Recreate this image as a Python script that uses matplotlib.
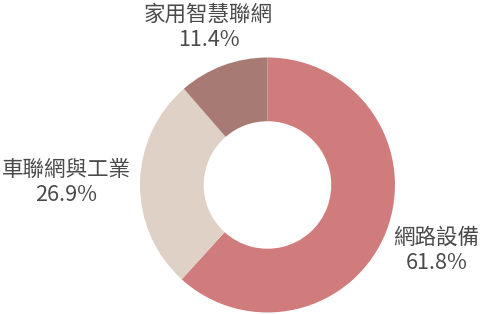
import numpy as np
import matplotlib
matplotlib.use('Agg')
import matplotlib.pyplot as plt

plt.rcParams['font.family'] = ['Noto Sans CJK TC', 'DejaVu Sans']

# 資料
labels = ['網路設備', '車聯網與工業', '家用智慧聯網']
values = [61.8, 26.9, 11.4]
colors = ['#d17c7c', '#e0d1c6', '#a77b74']
label_r = [1.42, 1.58, 1.32]  # 標籤離圓心距離

fig = plt.figure(figsize=(4.86, 3.14), dpi=100)
ax = fig.add_axes([0, 0, 1, 1])

wedges, _ = ax.pie(values, colors=colors, startangle=90, counterclock=False,
                   radius=1.0, wedgeprops=dict(width=0.5, linewidth=0))

for w, lab, v, r in zip(wedges, labels, values, label_r):
    ang = np.deg2rad((w.theta1 + w.theta2) / 2)
    ax.text(r * np.cos(ang), r * np.sin(ang), '%s\n%.1f%%' % (lab, v),
            ha='center', va='center', fontsize=15.5, color='#4a4a4a',
            linespacing=1.2)

ax.set_xlim(-2.098, 1.714)
ax.set_ylim(-1.012, 1.451)
ax.set_aspect('auto')
ax.axis('off')

fig.savefig('out.png', dpi=100)
